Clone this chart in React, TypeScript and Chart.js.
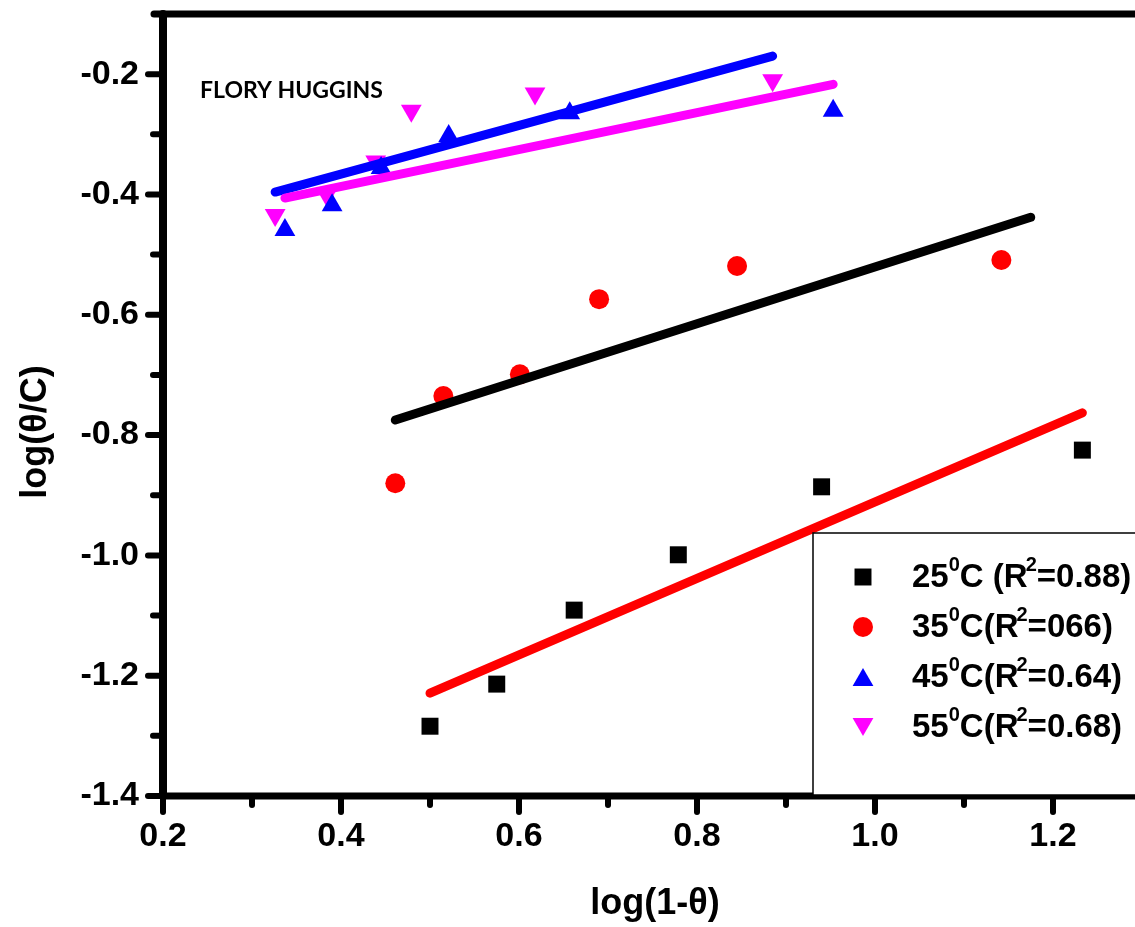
import React, { useEffect, useRef } from 'react';
import { Chart, registerables } from 'chart.js';
import { drawPoint } from 'chart.js/helpers';

Chart.register(...registerables);

// Measured points: log(1-θ) on x, log(θ/C) on y
const x25 = [0.5, 0.575, 0.662, 0.779, 0.94, 1.233];
const y25 = [-1.284, -1.214, -1.091, -0.999, -0.886, -0.825];
const x35 = [0.461, 0.515, 0.601, 0.69, 0.845, 1.142];
const y35 = [-0.88, -0.735, -0.699, -0.574, -0.519, -0.509];
const x45 = [0.337, 0.39, 0.445, 0.521, 0.657, 0.953];
const y45 = [-0.459, -0.418, -0.356, -0.303, -0.265, -0.261];
const x55 = [0.326, 0.384, 0.439, 0.479, 0.618, 0.885];
const y55 = [-0.434, -0.401, -0.345, -0.261, -0.232, -0.21];

// Linear fit end points for each temperature
const fit25X = [0.5, 1.233];
const fit25Y = [-1.229, -0.763];
const fit35X = [0.461, 1.175];
const fit35Y = [-0.775, -0.438];
const fit45X = [0.337, 0.953];
const fit45Y = [-0.406, -0.217];
const fit55X = [0.326, 0.885];
const fit55Y = [-0.396, -0.17];

// Legend text pieces
const legendTemps = ['25', '35', '45', '55'];
const legendGaps = [' ', '', '', ''];
const legendR2 = ['0.88', '066', '0.64', '0.68'];

// Axis ticks
const xTickValues = [0.2, 0.4, 0.6, 0.8, 1.0, 1.2];
const xTickLabels = ['0.2', '0.4', '0.6', '0.8', '1.0', '1.2'];
const xMinorTicks = [0.3, 0.5, 0.7, 0.9, 1.1];
const yTickValues = [-0.2, -0.4, -0.6, -0.8, -1.0, -1.2, -1.4];
const yTickLabels = ['-0.2', '-0.4', '-0.6', '-0.8', '-1.0', '-1.2', '-1.4'];
const yMinorTicks = [-0.3, -0.5, -0.7, -0.9, -1.1, -1.3];

const xTitle = 'log(1-θ)';
const yTitle = 'log(θ/C)';
const noteText = 'FLORY HUGGINS';

const SANS = '"Liberation Sans", Arial, Helvetica, sans-serif';

const pts = (xs: number[], ys: number[]) => xs.map((x, i) => ({ x, y: ys[i] }));

const framePlugin = {
  id: 'frame',
  afterDatasetsDraw(chart: any) {
    const { ctx, chartArea: a, scales } = chart;
    const xs = scales.x;
    const ys = scales.y;
    const seg = (x1: number, y1: number, x2: number, y2: number) => {
      ctx.beginPath();
      ctx.moveTo(x1, y1);
      ctx.lineTo(x2, y2);
      ctx.stroke();
    };
    ctx.save();
    ctx.strokeStyle = '#000';
    ctx.lineCap = 'round';

    // frame lines
    ctx.lineWidth = 7;
    seg(a.left - 9, a.top, a.right + 30, a.top);
    seg(a.left, a.bottom, a.right + 30, a.bottom);
    ctx.lineWidth = 8;
    seg(a.left, a.top, a.left, a.bottom);

    // y ticks
    ctx.lineWidth = 6;
    yTickValues.forEach((v) => {
      const py = ys.getPixelForValue(v);
      seg(a.left - 15, py, a.left, py);
    });
    yMinorTicks.forEach((v) => {
      const py = ys.getPixelForValue(v);
      seg(a.left - 10, py, a.left, py);
    });
    // x ticks
    xTickValues.forEach((v) => {
      const px = xs.getPixelForValue(v);
      seg(px, a.bottom, px, a.bottom + 16);
    });
    xMinorTicks.forEach((v) => {
      const px = xs.getPixelForValue(v);
      seg(px, a.bottom, px, a.bottom + 9);
    });

    // tick labels
    ctx.fillStyle = '#000';
    ctx.font = `bold 34px ${SANS}`;
    ctx.textAlign = 'right';
    ctx.textBaseline = 'middle';
    yTickValues.forEach((v, i) => {
      ctx.fillText(yTickLabels[i], a.left - 24, ys.getPixelForValue(v));
    });
    ctx.textAlign = 'center';
    ctx.textBaseline = 'alphabetic';
    xTickValues.forEach((v, i) => {
      ctx.fillText(xTickLabels[i], xs.getPixelForValue(v), a.bottom + 50);
    });

    // axis titles
    ctx.font = `bold 36px ${SANS}`;
    ctx.fillText(xTitle, 655, 914);
    ctx.save();
    ctx.translate(46, 432);
    ctx.rotate(-Math.PI / 2);
    ctx.fillText(yTitle, 0, 0);
    ctx.restore();

    // annotation
    ctx.font = 'bold 23px Lato, "Open Sans", sans-serif';
    ctx.textAlign = 'left';
    ctx.fillText(noteText, 200, 98);
    ctx.restore();
  },
  afterDraw(chart: any) {
    const { ctx, chartArea: a } = chart;
    const left = 813;
    const top = 533;
    const bottom = a.bottom - 1;
    ctx.save();
    ctx.fillStyle = '#fff';
    ctx.fillRect(left, top, 400, bottom - top);
    ctx.strokeStyle = '#000';
    ctx.lineWidth = 1.5;
    ctx.strokeRect(left, top, 400, bottom - top);

    const big = `bold 33px ${SANS}`;
    const small = `bold 20px ${SANS}`;
    const markerDatasets = chart.data.datasets.filter((d: any) => !d.showLine);
    markerDatasets.forEach((ds: any, i: number) => {
      const base = 587 + i * 50;
      ctx.fillStyle = ds.backgroundColor;
      const r = ds.pointRadius;
      const rot = ds.pointRotation || 0;
      let cy = base - 10;
      if (ds.pointStyle === 'triangle') cy += rot ? -r / 4 : r / 4;
      drawPoint(ctx, { pointStyle: ds.pointStyle, rotation: rot, radius: r, borderWidth: 0 }, 863, cy);

      ctx.fillStyle = '#000';
      ctx.textAlign = 'left';
      ctx.textBaseline = 'alphabetic';
      let cx = 912;
      const put = (t: string, font: string, dy: number, kern = 0) => {
        ctx.font = font;
        cx += kern;
        ctx.fillText(t, cx, base + dy);
        cx += ctx.measureText(t).width;
      };
      put(legendTemps[i], big, 0);
      put('0', small, -16);
      put('C' + legendGaps[i] + '(R', big, 0);
      put('2', small, -16, -2);
      put('=' + legendR2[i] + ')', big, 0);
    });
    ctx.restore();
  },
};

export default function App() {
  const ref = useRef<HTMLCanvasElement>(null);

  useEffect(() => {
    const canvas = ref.current;
    if (!canvas) return;
    const lineDs = (xs: number[], ys: number[], color: string) => ({
      data: pts(xs, ys),
      showLine: true,
      borderColor: color,
      backgroundColor: color,
      borderWidth: 9,
      borderCapStyle: 'round',
      pointRadius: 0,
      order: 0,
    });
    const markerDs = (xs: number[], ys: number[], color: string, style: string, radius: number, rotation = 0) => ({
      data: pts(xs, ys),
      showLine: false,
      backgroundColor: color,
      borderColor: color,
      borderWidth: 0,
      pointStyle: style,
      pointRadius: radius,
      pointRotation: rotation,
      pointBorderWidth: 0,
      order: 1,
    });
    const chart = new Chart(canvas, {
      type: 'scatter',
      data: {
        datasets: [
          markerDs(x25, y25, '#000000', 'rect', 12),
          markerDs(x35, y35, '#ff0000', 'circle', 10),
          markerDs(x45, y45, '#0000ff', 'triangle', 12),
          markerDs(x55, y55, '#ff00ff', 'triangle', 12, 180),
          lineDs(fit25X, fit25Y, '#ff0000'),
          lineDs(fit35X, fit35Y, '#000000'),
          lineDs(fit45X, fit45Y, '#ff00ff'),
          lineDs(fit55X, fit55Y, '#0000ff'),
        ] as any,
      },
      options: {
        responsive: false,
        maintainAspectRatio: false,
        animation: false,
        devicePixelRatio: 1,
        events: [],
        layout: { padding: { left: 163, top: 14, right: 18, bottom: 131 } },
        scales: {
          x: { type: 'linear', display: false, min: 0.2, max: 1.3 },
          y: { type: 'linear', display: false, min: -1.4, max: -0.1 },
        },
        plugins: { legend: { display: false }, tooltip: { enabled: false } },
      },
      plugins: [framePlugin],
    });
    return () => chart.destroy();
  }, []);

  return (
    <div
      style={{
        position: 'absolute',
        left: 0,
        top: 0,
        width: 1135,
        height: 927,
        overflow: 'hidden',
        background: '#fff',
      }}
    >
      <canvas ref={ref} width={1160} height={927} style={{ display: 'block', width: 1160, height: 927 }} />
    </div>
  );
}
